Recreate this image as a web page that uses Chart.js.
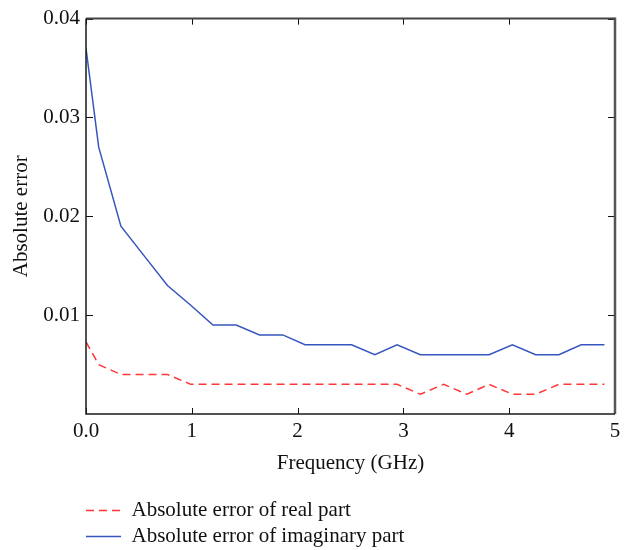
<!DOCTYPE html>
<html>
<head>
<meta charset="utf-8">
<script src="https://cdn.jsdelivr.net/npm/chart.js@4/dist/chart.umd.min.js"></script>
<style>
  html, body { margin: 0; padding: 0; background: #fff; }
  #wrap { width: 634px; height: 550px; }
</style>
</head>
<body>
<div id="wrap"><canvas id="grafica"></canvas></div>
<script>
// frecuencias (GHz) y errores
let frecuencias = [0, 0.12, 0.33, 0.55, 0.77, 0.99, 1.2, 1.42, 1.64, 1.86, 2.07, 2.29,
  2.51, 2.73, 2.94, 3.16, 3.38, 3.6, 3.81, 4.03, 4.25, 4.47, 4.68, 4.9];
let errorReal = [0.0073, 0.005, 0.004, 0.004, 0.004, 0.003, 0.003, 0.003, 0.003, 0.003, 0.003, 0.003,
  0.003, 0.003, 0.003, 0.002, 0.003, 0.002, 0.003, 0.002, 0.002, 0.003, 0.003, 0.003];
let errorImag = [0.037, 0.027, 0.019, 0.016, 0.013, 0.011, 0.009, 0.009, 0.008, 0.008, 0.007, 0.007,
  0.007, 0.006, 0.007, 0.006, 0.006, 0.006, 0.006, 0.007, 0.006, 0.006, 0.007, 0.007];
let ticksX = [0, 1, 2, 3, 4, 5];
let ticksY = [0.01, 0.02, 0.03, 0.04];

let fuente = { family: "'Liberation Serif', 'DejaVu Serif', serif", size: 21 };

// caja del grafico y marcas hacia adentro
let marco = {
  id: 'marco',
  afterLayout(chart) {
    let l = chart.legend;
    l.left -= 5; l.right -= 5;
    l.top += 7; l.bottom += 7;
  },
  afterDraw(chart) {
    let ctx = chart.ctx;
    let a = chart.chartArea;
    let sx = chart.scales.x, sy = chart.scales.y;
    ctx.save();
    ctx.strokeStyle = '#111';
    ctx.lineWidth = 1;
    ticksX.forEach(v => {
      let px = Math.round(sx.getPixelForValue(v)) + 0.5;
      ctx.beginPath();
      ctx.moveTo(px, a.bottom); ctx.lineTo(px, a.bottom - 6);
      ctx.moveTo(px, a.top); ctx.lineTo(px, a.top + 6);
      ctx.stroke();
    });
    ticksY.forEach(v => {
      let py = Math.round(sy.getPixelForValue(v)) + 0.5;
      ctx.beginPath();
      ctx.moveTo(a.left, py); ctx.lineTo(a.left + 7, py);
      ctx.moveTo(a.right, py); ctx.lineTo(a.right - 7, py);
      ctx.stroke();
    });
    ctx.strokeStyle = '#444';
    ctx.lineWidth = 2;
    ctx.beginPath();
    ctx.moveTo(a.left, a.top); ctx.lineTo(a.right, a.top);
    ctx.stroke();
    ctx.strokeStyle = '#555';
    ctx.lineWidth = 2.5;
    ctx.beginPath();
    ctx.moveTo(a.right, a.top - 1); ctx.lineTo(a.right, a.bottom);
    ctx.stroke();
    ctx.strokeStyle = '#1a1a1a';
    ctx.lineWidth = 1.5;
    ctx.beginPath();
    ctx.moveTo(a.left, a.top); ctx.lineTo(a.left, a.bottom); ctx.lineTo(a.right, a.bottom);
    ctx.stroke();
    ctx.restore();
  }
};

let contexto = document.getElementById('grafica').getContext('2d');
let opciones = {
  type: 'line',
  data: {
    datasets: [
      {
        label: 'Absolute error of real part',
        data: frecuencias.map((f, i) => ({ x: f, y: errorReal[i] })),
        borderColor: 'rgb(255, 55, 55)',
        backgroundColor: 'rgb(255, 55, 55)',
        borderWidth: 1.5,
        borderDash: [8, 5],
        pointRadius: 0,
        tension: 0
      },
      {
        label: 'Absolute error of imaginary part',
        data: frecuencias.map((f, i) => ({ x: f, y: errorImag[i] })),
        borderColor: 'rgb(55, 85, 190)',
        backgroundColor: 'rgb(55, 85, 190)',
        borderWidth: 1.5,
        pointRadius: 0,
        tension: 0
      }
    ]
  },
  options: {
    responsive: true,
    maintainAspectRatio: false,
    animation: false,
    layout: { padding: { top: 15, right: 19, bottom: 0, left: 0 } },
    plugins: {
      tooltip: { enabled: false },
      legend: {
        position: 'bottom',
        align: 'start',
        fullSize: false,
        labels: {
          usePointStyle: true,
          pointStyle: 'line',
          pointStyleWidth: 35,
          padding: 5,
          color: '#111',
          font: fuente,
          // con usePointStyle se pierde el borderDash, se lo devolvemos
          generateLabels: chart => Chart.defaults.plugins.legend.labels.generateLabels(chart).map(item => {
            let ds = chart.data.datasets[item.datasetIndex];
            item.lineDash = ds.borderDash || [];
            item.lineWidth = ds.borderWidth;
            item.strokeStyle = ds.borderColor;
            return item;
          })
        }
      }
    },
    scales: {
      x: {
        type: 'linear',
        min: 0,
        max: 5,
        afterFit: s => { s.height = 74; },
        afterBuildTicks: s => { s.ticks = ticksX.map(v => ({ value: v })); },
        grid: { display: false, drawTicks: false },
        border: { display: false },
        ticks: {
          padding: 5,
          color: '#111',
          font: fuente,
          maxRotation: 0,
          callback: v => (v === 0 ? '0.0' : String(v))
        },
        title: {
          display: true,
          text: 'Frequency (GHz)',
          color: '#111',
          font: fuente,
          padding: { top: 6, bottom: 12 }
        }
      },
      y: {
        min: 0,
        max: 0.04,
        afterFit: s => { s.width = 86; },
        afterBuildTicks: s => { s.ticks = [0].concat(ticksY).map(v => ({ value: v })); },
        grid: { display: false, drawTicks: false },
        border: { display: false },
        ticks: {
          padding: 6,
          color: '#111',
          font: fuente,
          callback: v => (v === 0 ? '' : v.toFixed(2))
        },
        title: {
          display: true,
          text: 'Absolute error',
          color: '#111',
          font: fuente,
          padding: { top: 9, bottom: 9 }
        }
      }
    }
  },
  plugins: [marco]
};

let grafica = new Chart(contexto, opciones);
</script>
</body>
</html>
